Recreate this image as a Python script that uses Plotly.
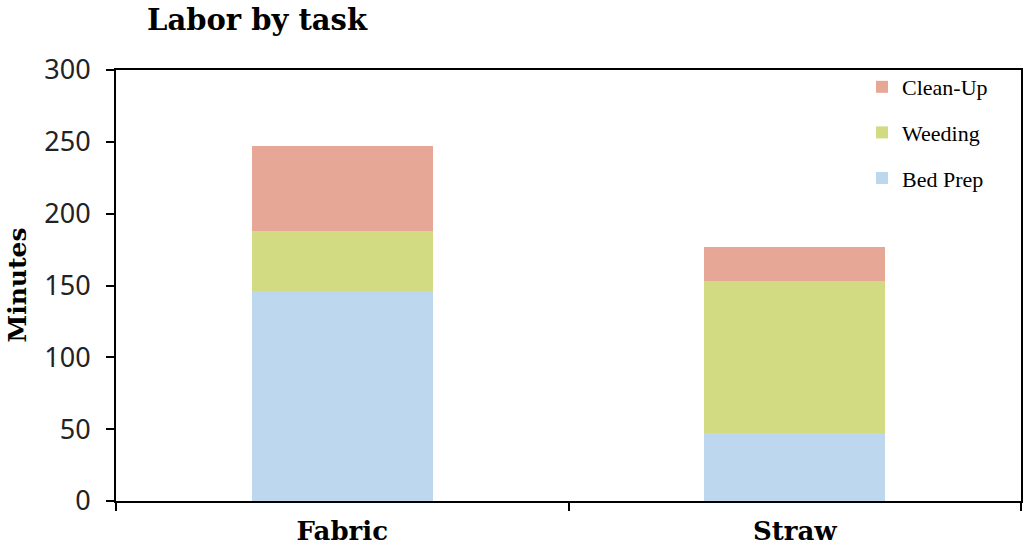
import plotly.graph_objects as go

categories = ["Fabric", "Straw"]
bed_prep = [146, 47]
weeding = [42, 106]
clean_up = [59, 24]

colors = {"Bed Prep": "#BDD7EE", "Weeding": "#D2DA82", "Clean-Up": "#E7A797"}
ranks = {"Clean-Up": 1, "Weeding": 2, "Bed Prep": 3}

fig = go.Figure()
for name, vals in [("Bed Prep", bed_prep), ("Weeding", weeding), ("Clean-Up", clean_up)]:
    fig.add_trace(go.Bar(x=categories, y=vals, name=name, marker_color=colors[name],
                         marker_line_width=0, legendgroup=name, legendrank=ranks[name]))

W, H = 1024, 553
L, R, T, B = 116, 3, 70, 52
pw = W - L - R
ph = H - T - B

fig.update_layout(
    barmode="stack",
    bargap=0.6,
    width=W, height=H,
    margin=dict(l=L, r=R, t=T, b=B, autoexpand=False),
    plot_bgcolor="white", paper_bgcolor="white",
    title=dict(text="<b>Labor by task</b>", x=147/W, xanchor="left", y=1 - 20/H, yanchor="middle",
               font=dict(family="DejaVu Serif", size=29, color="black")),
    legend=dict(x=(862 - L)/pw, xanchor="left", y=1.0 + 4/ph, yanchor="top", traceorder="grouped",
                tracegroupgap=14, font=dict(family="Liberation Serif", size=22, color="black"),
                itemwidth=30, bgcolor="rgba(0,0,0,0)"),
    showlegend=True,
    annotations=[dict(text="<b>Minutes</b>", xref="paper", yref="paper",
                      x=(17 - L)/pw, y=0.5, xanchor="center", yanchor="middle",
                      textangle=-90, showarrow=False,
                      font=dict(family="DejaVu Serif", size=25, color="black"))],
)
fig.update_yaxes(range=[0, 300], dtick=50, showgrid=False, showline=True, linecolor="black", linewidth=2,
                 mirror=True, ticks="outside", ticklen=8, tickcolor="black", tickwidth=2,
                 ticklabelstandoff=10,
                 tickfont=dict(family="Noto Sans", size=27, color="#222"))
fig.update_xaxes(showgrid=False, showline=True, linecolor="black", linewidth=2, mirror=True,
                 ticks="outside", tickson="boundaries", ticklen=8, tickcolor="black", tickwidth=2,
                 ticklabelstandoff=6,
                 tickfont=dict(family="DejaVu Serif", size=26, color="black"),
                 tickvals=categories, ticktext=["<b>" + c + "</b>" for c in categories])

fig.write_html("out.html", config={"displayModeBar": False},
               post_script="document.body.style.margin='0';document.body.style.overflow='hidden';")
